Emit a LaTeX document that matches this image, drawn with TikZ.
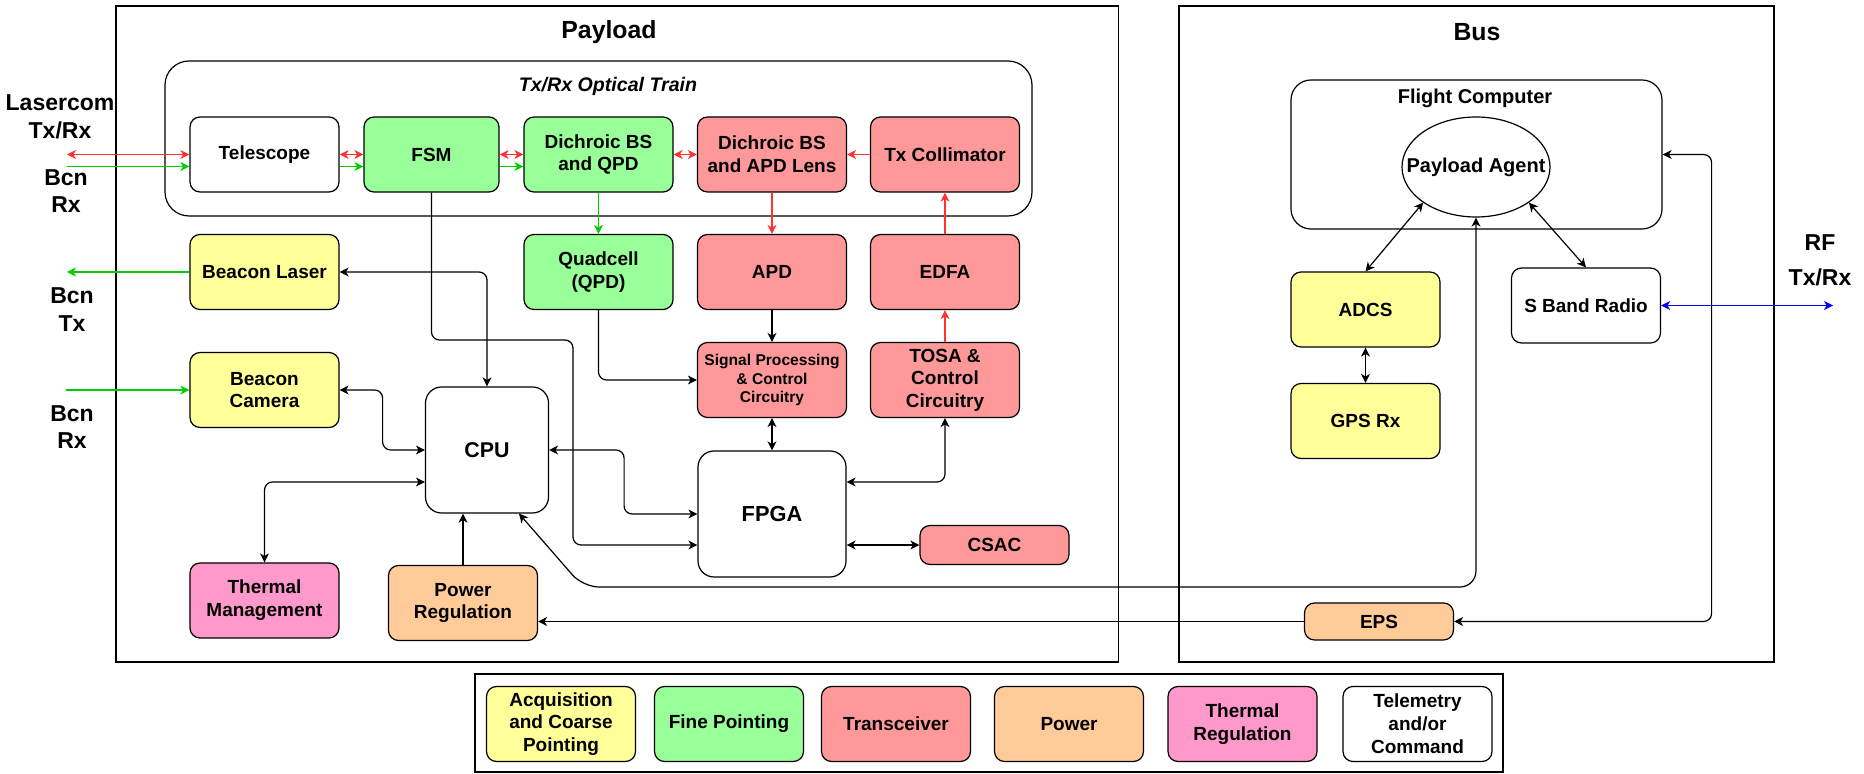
\documentclass[tikz,border=0pt]{standalone}
\usepackage{fontspec}
\setmainfont{Liberation Sans}
\usetikzlibrary{arrows.meta,shapes.geometric}

\definecolor{acqyellow}{HTML}{FFFF99}
\definecolor{finegreen}{HTML}{99FF99}
\definecolor{trxred}{HTML}{FF9999}
\definecolor{pwrorange}{HTML}{FFCC99}
\definecolor{thermpink}{HTML}{FF99CC}
\definecolor{beamred}{HTML}{FF3333}
\definecolor{beamgreen}{HTML}{00CC00}

\begin{document}
\begin{tikzpicture}[x = 0.5pt, y = -0.5pt, >={Stealth[length=4.5pt,width=4.5pt,inset=1.3pt]},
	unit/.style = {draw, rounded corners=5pt, line width=0.6pt, align=center, inner sep=1pt, minimum width=74.5pt, minimum height=37.5pt, font=\fontsize{9.5}{11.4}\selectfont\bfseries},
	acq/.style = {unit, fill=acqyellow},
	fine/.style = {unit, fill=finegreen},
	trx/.style = {unit, fill=trxred},
	power/.style = {unit, fill=pwrorange},
	therm/.style = {unit, fill=thermpink},
	tlm/.style = {unit, fill=white},
	panel/.style = {draw, line width=0.7pt, inner sep=0pt},
	ttl/.style = {font=\fontsize{12.4}{15}\selectfont\bfseries},
	side/.style = {align=center, font=\fontsize{11.5}{13.7}\selectfont\bfseries},
	wire/.style = {line width=0.6pt, rounded corners=4pt},
	redbeam/.style = {wire, draw=beamred},
	greenbeam/.style = {wire, draw=beamgreen},]
		\useasboundingbox (0,0) rectangle (1864,774);

		\node[panel, minimum width=501.25pt, minimum height=328pt] (PL) at (617.25,334) {};
		\node[panel, minimum width=297.5pt, minimum height=328pt] (BUS) at (1476.5,334) {};
		\node[ttl] (PLT) at (609,32) {Payload};
		\node[ttl] (BUST) at (1477,32) {Bus};
		\node[draw, rounded corners=12pt, line width=0.6pt, minimum width=433.5pt, minimum height=77.5pt] (OT) at (598.5,138.5) {};
		\node[font=\fontsize{9.8}{12}\selectfont\bfseries\itshape] (OTT) at (608,86) {Tx/Rx Optical Train};

		\node[side] (LC) at (60,117) {Lasercom\\Tx/Rx};
		\node[side] (BR1) at (66,191) {Bcn\\Rx};
		\node[side] (BT) at (72,309.5) {Bcn\\Tx};
		\node[side] (BR2) at (72,427) {Bcn\\Rx};
		\node[side] (RFT) at (1820,260.5) {RF\\[3.5pt]Tx/Rx};
		\coordinate (lc) at (67,154.5);
		\coordinate (brx) at (67,166.5);
		\coordinate (btx) at (67,272);
		\coordinate (brx2) at (66,390);
		\coordinate (rf) at (1833,305.5);

		\node[tlm] (TEL) at (264.5,154.5) {Telescope};
		\node[fine, minimum width=67.5pt] (FSM) at (431.5,154.5) {FSM};
		\node[fine] (DQ) at (598.5,154.5) {Dichroic BS\\and QPD};
		\node[trx] (DA) at (772,154.5) {Dichroic BS\\and APD Lens};
		\node[trx] (TC) at (945,154.5) {Tx Collimator};

		\node[acq] (BL) at (264.5,272) {Beacon Laser};
		\node[fine] (QPD) at (598.5,272) {Quadcell\\(QPD)};
		\node[trx] (APD) at (772,272) {APD};
		\node[trx] (EDFA) at (945,272) {EDFA};

		\node[trx, font=\fontsize{7.8}{9.3}\selectfont\bfseries] (SP) at (772,380) {Signal Processing\\\& Control\\Circuitry};
		\node[trx, font=\fontsize{9.5}{11.2}\selectfont\bfseries] (TOSA) at (945,380) {TOSA \&\\Control\\Circuitry};
		\node[acq] (BC) at (264.5,390) {Beacon\\Camera};
		\node[tlm, rounded corners=8pt, minimum width=61.5pt, minimum height=63pt, font=\fontsize{10.7}{12.8}\selectfont\bfseries] (CPU) at (487,450) {CPU};
		\node[tlm, rounded corners=8pt, minimum width=74pt, minimum height=63pt, font=\fontsize{10.9}{13}\selectfont\bfseries] (FPGA) at (772,514) {FPGA};
		\node[trx, minimum height=19.5pt] (CSAC) at (994.5,545) {CSAC};
		\node[therm] (TM) at (264.5,600.5) {Thermal\\Management};
		\node[power] (PR) at (463,603) {Power\\Regulation};

		\node[draw, rounded corners=10pt, line width=0.6pt, minimum width=185.5pt, minimum height=74.5pt] (FC) at (1476.5,154.5) {};
		\node[font=\fontsize{10}{12}\selectfont\bfseries] (FCT) at (1475,98) {Flight Computer};
		\node[draw, ellipse, fill=white, line width=0.6pt, inner sep=0pt, minimum width=74pt, minimum height=50pt] (PA) at (1476,167) {};
		\node[font=\fontsize{10}{12}\selectfont\bfseries] (PAT) at (PA.center) {Payload Agent};
		\node[acq] (ADCS) at (1365.5,309.5) {ADCS};
		\node[acq] (GPS) at (1365.5,421) {GPS Rx};
		\node[tlm] (SBR) at (1586,305.5) {S Band Radio};
		\node[power, minimum height=18.5pt] (EPS) at (1379,621.5) {EPS};

		\node[panel, minimum width=514pt, minimum height=49pt] (LEG) at (989,723) {};
		\node[acq] (L1) at (561,724) {Acquisition\\and Coarse\\Pointing};
		\node[fine] (L2) at (729,724) {Fine Pointing};
		\node[trx] (L3) at (896,724) {Transceiver};
		\node[power] (L4) at (1069,724) {Power};
		\node[therm] (L5) at (1242.5,724) {Thermal\\Regulation};
		\node[tlm] (L6) at (1417.5,724) {Telemetry\\and/or\\Command};

		\draw[redbeam, <->] (lc) -- (TEL.west);
		\draw[greenbeam, ->] (brx) -- ([yshift=-6pt]TEL.west);
		\draw[redbeam, <->] (TEL.east) -- (FSM.west);
		\draw[greenbeam, ->] ([yshift=-6pt]TEL.east) -- ([yshift=-6pt]FSM.west);
		\draw[redbeam, <->] (FSM.east) -- (DQ.west);
		\draw[greenbeam, ->] ([yshift=-6pt]FSM.east) -- ([yshift=-6pt]DQ.west);
		\draw[redbeam, <->] (DQ.east) -- (DA.west);
		\draw[redbeam, ->] (TC.west) -- (DA.east);
		\draw[greenbeam, ->] (DQ.south) -- (QPD.north);
		\draw[redbeam, ->] (DA.south) -- (APD.north);
		\draw[redbeam, ->] (EDFA.north) -- (TC.south);
		\draw[redbeam, ->] (TOSA.north) -- (EDFA.south);
		\draw[greenbeam, ->] (BL.west) -- (btx);
		\draw[greenbeam, ->] (brx2) -- (BC.west);

		\draw[wire, <->] (BL.east) -| (CPU.north);
		\draw[wire, <->] (BC.east) -- ++(43,0) |- (CPU.west);
		\draw[wire, <->] ([yshift=-16pt]CPU.west) -| (TM.north);
		\draw[wire, ->] (PR.north) -- (PR.north |- CPU.south);
		\draw[wire, <->] (CPU.east) -- ++(75,0) |- (FPGA.west);
		\draw[wire, ->] (FSM.south) |- (573,340) |- ([yshift=-15.5pt]FPGA.west);
		\draw[wire, <->, rounded corners=8pt] ([xshift=16pt]CPU.south) -- (583,587) -| (PA.south);
		\draw[wire, ->] (APD.south) -- (SP.north);
		\draw[wire, ->] (QPD.south) |- (SP.west);
		\draw[wire, <->] (SP.south) -- (FPGA.north);
		\draw[wire, <->] ([yshift=16pt]FPGA.east) -| (TOSA.south);
		\draw[wire, <->] (CSAC.west -| FPGA.east) -- (CSAC.west);
		\draw[wire, ->] (EPS.west) -- (EPS.west -| PR.east);
		\draw[wire, <->] (FC.east) -- ++(49,0) |- (EPS.east);
		\draw[wire, <->] (PA.214) -- (ADCS.north);
		\draw[wire, <->] (PA.-34) -- (SBR.north);
		\draw[wire, <->] (ADCS.south) -- (GPS.north);
		\draw[wire, <->, draw=blue] (SBR.east) -- (rf);
	\end{tikzpicture}
\end{document}
